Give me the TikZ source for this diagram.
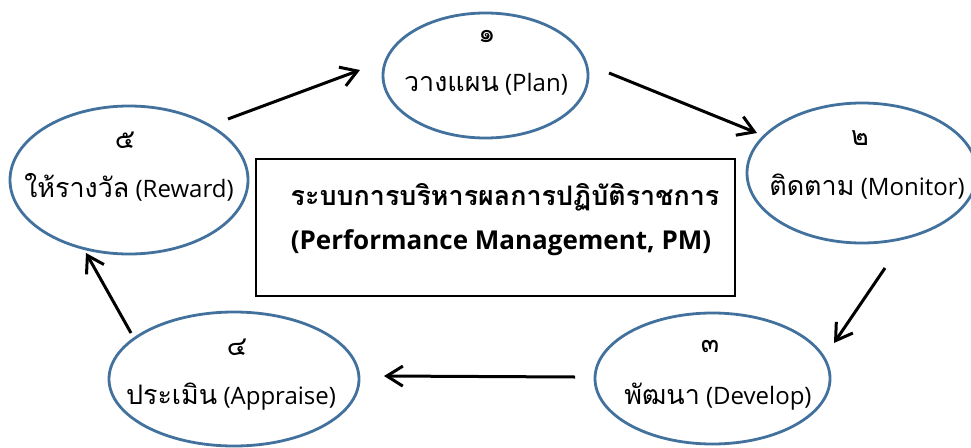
\documentclass[tikz,border=0pt]{standalone}
\usepackage{fontspec}
\setmainfont{Open Sans}
\newfontfamily\thai[Script=Thai,Scale=1.12]{Loma}
\usetikzlibrary{arrows.meta,shapes.geometric}
\definecolor{ringblue}{HTML}{41719C}
\begin{document}
\begin{tikzpicture}[x=1pt,y=-1pt,
  stage/.style={ellipse, draw=ringblue, line width=2.8pt, inner sep=0pt},
  lbl/.style={inner sep=0pt, font=\fontsize{24}{28}\selectfont},
  title/.style={inner sep=0pt, font=\fontsize{24}{28}\selectfont\bfseries},
  flow/.style={line width=3pt, -{Straight Barb[length=16pt,width=20pt,line width=3pt]}}
]
\useasboundingbox (0,0) rectangle (971,447);

% stages
\node[stage, minimum width=205pt, minimum height=125pt] (plan) at (485.5,75.5) {};
\node[stage, minimum width=230pt, minimum height=140pt] (monitor) at (862,173) {};
\node[stage, minimum width=235pt, minimum height=131pt] (develop) at (712.5,378.5) {};
\node[stage, minimum width=250pt, minimum height=134pt] (appraise) at (234,379) {};
\node[stage, minimum width=238pt, minimum height=148pt] (reward) at (129,180) {};

% labels
\node[lbl] (plannum) at (487,37) {\thai ๑};
\node[lbl] (plantxt) at (486,84) {{\thai วางแผน} (Plan)};
\node[lbl] (monnum) at (860,138) {\thai ๒};
\node[lbl] (montxt) at (867,187) {{\thai ติดตาม} (Monitor)};
\node[lbl] (devnum) at (710,347) {\thai ๓};
\node[lbl] (devtxt) at (718,397) {{\thai พัฒนา} (Develop)};
\node[lbl] (appnum) at (237,347) {\thai ๔};
\node[lbl] (apptxt) at (231,397) {{\thai ประเมิน} (Appraise)};
\node[lbl] (rewnum) at (125,140) {\thai ๕};
\node[lbl] (rewtxt) at (129,187) {{\thai ให้รางวัล} (Reward)};

% central box
\node[draw, line width=2.8pt, minimum width=479pt, minimum height=137pt, inner sep=0pt] (pm) at (495.5,227.5) {};
\node[title] (pmth) at (505,197) {\thai ระบบการบริหารผลการปฏิบัติราชการ};
\node[title, font=\fontsize{26}{30}\selectfont\bfseries] (pmen) at (501,243) {(Performance Management, PM)};

% arrow ends
\coordinate (a1s) at (228,119); \coordinate (a1e) at (360,70);
\coordinate (a2s) at (609,73);  \coordinate (a2e) at (757,133);
\coordinate (a3s) at (885,268); \coordinate (a3e) at (834,343);
\coordinate (a4s) at (575,377); \coordinate (a4e) at (384,376);
\coordinate (a5s) at (131,333); \coordinate (a5e) at (86,253);

\draw[flow] (a1s) -- (a1e);
\draw[flow] (a2s) -- (a2e);
\draw[flow] (a3s) -- (a3e);
\draw[flow] (a4s) -- (a4e);
\draw[flow] (a5s) -- (a5e);
\end{tikzpicture}
\end{document}
